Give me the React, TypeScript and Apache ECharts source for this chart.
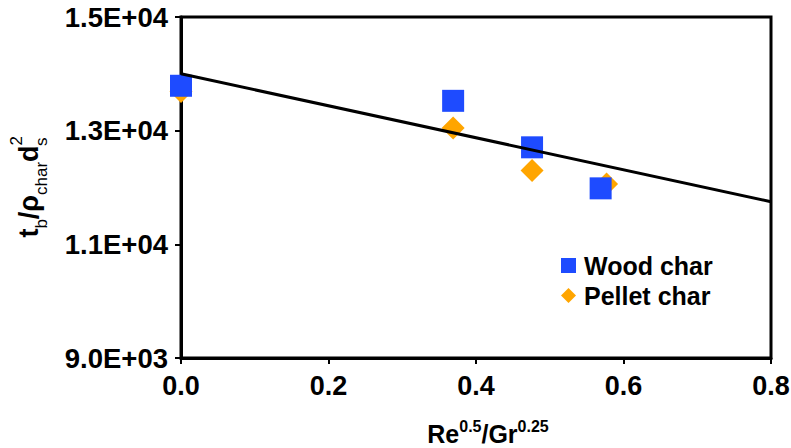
import React, { useEffect, useRef } from "react";
import * as echarts from "echarts";

// Measured points (x = Re^0.5/Gr^0.25, y = t_b/ρ_char·d_s²)
const woodX = [0, 0.369, 0.476, 0.569];
const woodY = [13790, 13525, 12707, 11985];
const pelletX = [0, 0.369, 0.476, 0.577];
const pelletY = [13690, 13045, 12300, 12060];

// Linear fit endpoints
const fitX = [0, 0.8];
const fitY = [14000, 11750];

const xTicks = { min: 0, max: 0.8, interval: 0.2 };
const yTicks = { min: 9000, max: 15000, interval: 2000 };

const FONT = "Liberation Sans, Arial, sans-serif";

const sci = (v: number) => {
  const [m, e] = v.toExponential(1).split("e");
  const sign = e[0];
  const digits = e.slice(1).padStart(2, "0");
  return `${m}E${sign}${digits}`;
};

const zip = (xs: number[], ys: number[]) => xs.map((x, i) => [x, ys[i]]);

export default function App() {
  const ref = useRef<HTMLDivElement>(null);

  useEffect(() => {
    if (!ref.current) return;
    const chart = echarts.init(ref.current, undefined, { renderer: "svg" });
    const base = { fontFamily: FONT, fontWeight: "bold", color: "#000" };
    chart.setOption({
      animation: false,
      backgroundColor: "#fff",
      grid: {
        left: 181,
        right: 20,
        top: 17,
        bottom: 90,
        containLabel: false,
        outerBoundsMode: "none",
        show: true,
        borderColor: "#000",
        borderWidth: 3,
        backgroundColor: "transparent",
      },
      legend: {
        orient: "vertical",
        left: 556,
        top: 248,
        itemWidth: 15,
        itemHeight: 15,
        itemGap: 5,
        data: [
          { name: "Wood char", icon: "rect" },
          { name: "Pellet char", icon: "diamond" },
        ],
        textStyle: { ...base, fontSize: 25, padding: [0, 0, 0, 3] },
      },
      xAxis: {
        type: "value",
        ...xTicks,
        splitLine: { show: false },
        axisLine: { lineStyle: { color: "#000", width: 3 } },
        axisTick: { show: true, length: 6, lineStyle: { color: "#000", width: 2 } },
        axisLabel: {
          ...base,
          fontSize: 27,
          margin: 14,
          formatter: (v: number) => v.toFixed(1),
        },
        name: "{m|Re}{s|0.5}{m|/Gr}{s|0.25}",
        nameLocation: "middle",
        nameGap: 60,
        nameTextStyle: {
          padding: [0, 0, 0, 24],
          rich: {
            m: { ...base, fontSize: 25, verticalAlign: "bottom", lineHeight: 28 },
            s: { ...base, fontSize: 16, verticalAlign: "top", lineHeight: 28 },
          },
        },
      },
      yAxis: {
        type: "value",
        ...yTicks,
        splitLine: { show: false },
        axisLine: { show: true, lineStyle: { color: "#000", width: 3 } },
        axisTick: { show: true, length: 6, lineStyle: { color: "#000", width: 2 } },
        axisLabel: {
          ...base,
          fontSize: 27.5,
          margin: 13,
          formatter: (v: number) => sci(v),
        },
        name: "{m|t}{b|b}{m|/ρ}{b|char}{m|d}{s|2}{sb|s}",
        nameLocation: "middle",
        nameGap: 131,
        nameRotate: 90,
        nameTextStyle: {
          rich: {
            m: { ...base, fontSize: 27, verticalAlign: "middle", lineHeight: 42 },
            b: { ...base, fontWeight: "normal", fontSize: 17, verticalAlign: "bottom", lineHeight: 42 },
            s: { ...base, fontWeight: "normal", fontSize: 17, verticalAlign: "top", lineHeight: 42 },
            sb: { ...base, fontWeight: "normal", fontSize: 17, verticalAlign: "bottom", lineHeight: 42, padding: [0, 0, 0, -10] },
          },
        },
      },
      series: [
        {
          name: "Pellet char",
          type: "scatter",
          symbol: "diamond",
          symbolSize: 23,
          itemStyle: { color: "#FFA500", opacity: 1 },
          data: zip(pelletX, pelletY),
        },
        {
          name: "Wood char",
          type: "scatter",
          symbol: "rect",
          symbolSize: 22,
          itemStyle: { color: "#1E4BFF", opacity: 1, borderRadius: 2 },
          data: zip(woodX, woodY),
        },
        {
          name: "fit",
          type: "line",
          showSymbol: false,
          symbol: "none",
          lineStyle: { color: "#000", width: 3 },
          data: zip(fitX, fitY),
          silent: true,
        },
      ],
    });
    return () => chart.dispose();
  }, []);

  return <div ref={ref} style={{ width: 791, height: 448, position: "absolute", left: 0, top: 0 }} />;
}
